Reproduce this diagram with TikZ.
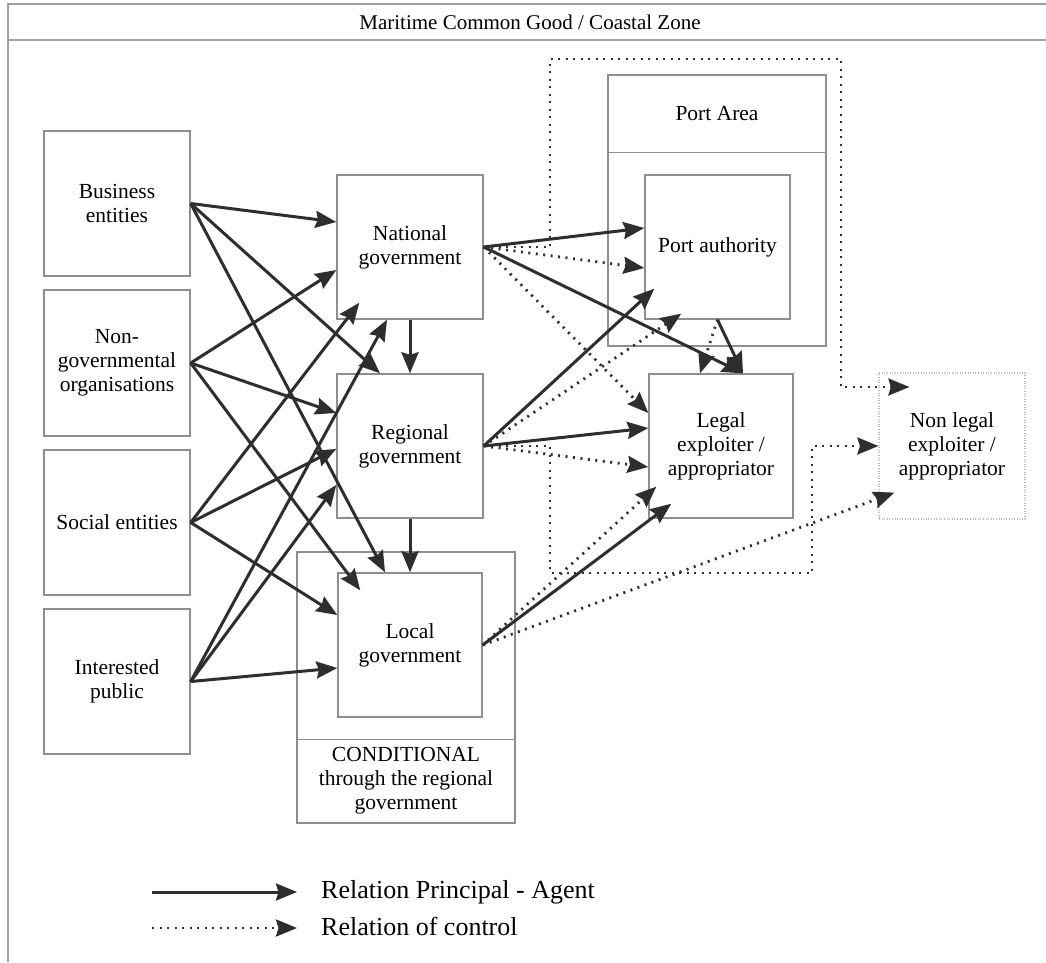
\documentclass[tikz,border=0pt]{standalone}
\usepackage{fontspec}
\setmainfont{Liberation Serif}
\usetikzlibrary{arrows.meta,calc}
\definecolor{boxgray}{HTML}{8E8E8E}
\definecolor{arrgray}{HTML}{2E2E2E}
\definecolor{framegray}{HTML}{A0A0A0}
\definecolor{nlgray}{HTML}{BBBBBB}
\newcommand\dgnodefont{\fontsize{21.5}{24}\selectfont}
\newcommand\dglegfont{\fontsize{26}{30}\selectfont}
\begin{document}
\begin{tikzpicture}[x=1pt,y=-1pt,
  box/.style={draw=boxgray,line width=1.4pt,align=center,inner sep=0pt,font=\dgnodefont},
  plain/.style={align=center,inner sep=0pt,font=\dgnodefont},
  nlbox/.style={draw=nlgray,line width=1.2pt,dash pattern=on 1pt off 1.6pt,align=center,inner sep=0pt,font=\dgnodefont},
  agentarrow/.style={draw=arrgray,line width=3pt,-{Stealth[length=21pt,width=17pt,inset=2.5pt]}},
  ctrlarrow/.style={draw=arrgray,line width=2.8pt,dash pattern=on 2pt off 5.5pt,-{Stealth[length=21pt,width=17pt,inset=2.5pt]}}]
\useasboundingbox (0,0) rectangle (1046,962);
\fill[white] (0,0) rectangle (1046,962);
% frame
\draw[framegray,line width=1.6pt] (1046,4) -- (8,4) -- (8,962);
\draw[framegray,line width=1.6pt] (8,40) -- (1046,40);
\node[plain,font=\fontsize{21}{24}\selectfont] (title) at (530,22) {Maritime Common Good / Coastal Zone};
% left column
\node[box,minimum width=146pt,minimum height=145pt] (bus) at (117,203.5) {Business\\entities};
\node[box,minimum width=146pt,minimum height=146pt] (ngo) at (117,363) {Non-\\governmental\\organisations};
\node[box,minimum width=146pt,minimum height=145pt] (soc) at (117,522.5) {Social entities};
\node[box,minimum width=146pt,minimum height=145pt] (pub) at (117,681.5) {Interested\\public};
% government column
\node[box,minimum width=146pt,minimum height=144pt] (nat) at (410,247) {National\\government};
\node[box,minimum width=146pt,minimum height=144pt] (reg) at (410,446) {Regional\\government};
\node[box,minimum width=218pt,minimum height=271pt] (cond) at (406,687.5) {};
\draw[boxgray,line width=1.4pt] ([yshift=84pt]cond.south west) -- ([yshift=84pt]cond.south east);
\node[box,minimum width=144pt,minimum height=144pt] (loc) at (410,645) {Local\\government};
\node[plain] (condtxt) at (406,781) {CONDITIONAL\\through the regional\\government};
% port area
\node[box,minimum width=218pt,minimum height=271pt] (parea) at (717,210.5) {};
\draw[boxgray,line width=1.4pt] ([yshift=-78pt]parea.north west) -- ([yshift=-78pt]parea.north east);
\node[plain] (patxt) at (717,114) {Port Area};
\node[box,minimum width=145pt,minimum height=144pt] (pauth) at (717.5,247) {Port authority};
\node[box,minimum width=144pt,minimum height=144pt] (leg) at (721,446) {Legal\\exploiter /\\appropriator};
\node[nlbox,minimum width=146pt,minimum height=146pt] (nleg) at (952,446) {Non legal\\exploiter /\\appropriator};
% left -> government
\draw[agentarrow] (bus.east) -- ([yshift=25pt]nat.west);
\draw[agentarrow] (bus.east) -- ([xshift=-30pt]reg.north);
\draw[agentarrow] (bus.east) -- ([xshift=-25pt]loc.north);
\draw[agentarrow] (ngo.east) -- ([yshift=-23pt]nat.west);
\draw[agentarrow] (ngo.east) -- ([yshift=33pt]reg.west);
\draw[agentarrow] (ngo.east) -- ([xshift=23pt,yshift=-18pt]loc.north west);
\draw[agentarrow] (soc.east) -- ([xshift=23pt,yshift=17pt]nat.south west);
\draw[agentarrow] (soc.east) -- ([yshift=-3pt]reg.west);
\draw[agentarrow] (soc.east) -- ([yshift=30pt]loc.west);
\draw[agentarrow] (pub.east) -- ([xshift=-23pt]nat.south);
\draw[agentarrow] (pub.east) -- ([yshift=-39pt]reg.west);
\draw[agentarrow] (pub.east) -- ([yshift=-23pt]loc.west);
% vertical
\draw[agentarrow] (nat.south) -- (reg.north);
\draw[agentarrow] (reg.south) -- (loc.north);
% national out
\draw[agentarrow] (nat.east) -- ([yshift=19pt]pauth.west);
\draw[ctrlarrow] (nat.east) -- ([yshift=-21pt]pauth.west);
\draw[agentarrow] (nat.east) -- ([xshift=22pt]leg.north);
\draw[ctrlarrow] (nat.east) -- ([yshift=33pt]leg.west);
\draw[ctrlarrow] (nat.east) -- (550,247) -- (550,59) -- (841,59) -- (841,387) -- ([xshift=31pt,yshift=59pt]nleg.west);
% regional out
\draw[agentarrow] (reg.east) -- ([xshift=10pt,yshift=31pt]pauth.south west);
\draw[ctrlarrow] (reg.east) -- ([xshift=37pt,yshift=6pt]pauth.south west);
\draw[agentarrow] (reg.east) -- ([yshift=18pt]leg.west);
\draw[ctrlarrow] (reg.east) -- ([yshift=-21pt]leg.west);
\draw[ctrlarrow] (reg.east) -- (550,446) -- (550,573) -- (812,573) -- (812,446) -- (nleg.west);
% local out
\draw[agentarrow] (loc.east) -- ([xshift=23pt,yshift=15pt]leg.south west);
\draw[ctrlarrow] (loc.east) -- ([xshift=8pt,yshift=32pt]leg.south west);
\draw[ctrlarrow] (loc.east) -- ([xshift=16pt,yshift=27pt]nleg.south west);
% port authority -> legal
\draw[agentarrow] (pauth.south) -- ([xshift=22pt]leg.north);
\draw[ctrlarrow] (pauth.south) -- ([xshift=-21pt]leg.north);
% legend
\coordinate (la1) at (152,892);
\coordinate (la2) at (297,892);
\coordinate (lb1) at (152,928);
\coordinate (lb2) at (297,928);
\draw[agentarrow] (la1) -- (la2);
\draw[ctrlarrow] (lb1) -- (lb2);
\node[plain,font=\dglegfont,anchor=west] (lt1) at (321,892) {Relation Principal - Agent};
\node[plain,font=\dglegfont,anchor=west] (lt2) at (321,926) {Relation of control};
\end{tikzpicture}
\end{document}
